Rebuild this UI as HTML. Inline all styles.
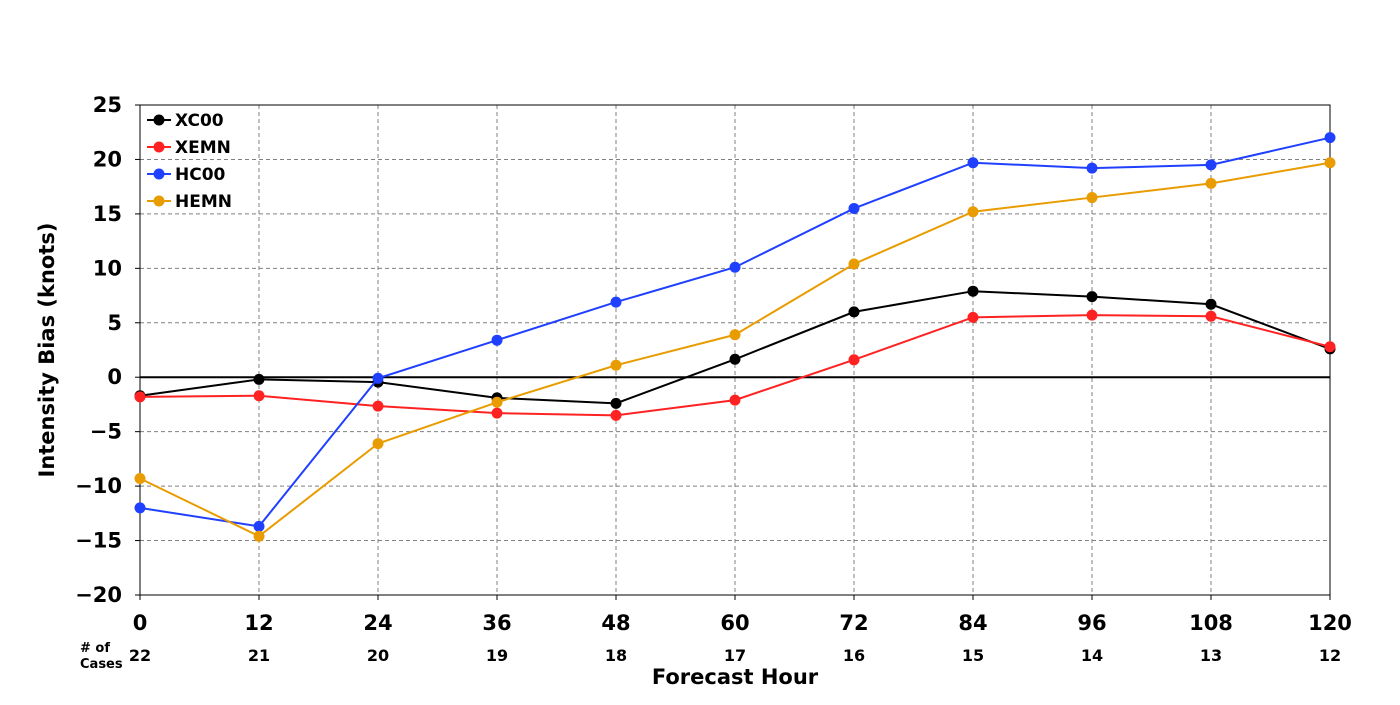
<!DOCTYPE html>
<html><head><meta charset="utf-8"><style>
body{margin:0;background:#fff;}
svg text{font-family:"DejaVu Sans","Liberation Sans",sans-serif;font-weight:bold;}
</style></head><body>
<svg id="chart" width="1400" height="700" xmlns="http://www.w3.org/2000/svg"></svg>
<script>
const hours=[0,12,24,36,48,60,72,84,96,108,120];
const cases=[22,21,20,19,18,17,16,15,14,13,12];
const yTicks=[25,20,15,10,5,0,-5,-10,-15,-20];
const seriesNames=["XC00","XEMN","HC00","HEMN"];
const seriesColors=["#000000","#ff2222","#2040ff","#e89c00"];
const xc00=[-1.7,-0.2,-0.45,-1.9,-2.4,1.65,6.0,7.9,7.4,6.7,2.6];
const xemn=[-1.8,-1.7,-2.65,-3.3,-3.5,-2.1,1.6,5.5,5.7,5.6,2.8];
const hc00=[-12.0,-13.7,-0.1,3.4,6.9,10.1,15.5,19.7,19.2,19.5,22.0];
const hemn=[-9.3,-14.6,-6.1,-2.3,1.1,3.9,10.4,15.2,16.5,17.8,19.7];
const seriesData=[xc00,xemn,hc00,hemn];
const NS="http://www.w3.org/2000/svg";
const svg=document.getElementById('chart');
const L=140,R=1330,T=105,B=595;
const xS=v=>L+(v-0)/(120-0)*(R-L);
const yS=v=>T+(25-v)/(45)*(B-T);
function mk(tag,attrs,parent){const e=document.createElementNS(NS,tag);for(const k in attrs)e.setAttribute(k,attrs[k]);(parent||svg).appendChild(e);return e;}
// grid
hours.forEach(h=>{const l=mk('line',{x1:xS(h),x2:xS(h),y1:T,y2:B,stroke:'#808080','stroke-dasharray':'4,3','stroke-width':1});
});
yTicks.forEach(v=>{const l=mk('line',{x1:L,x2:R,y1:yS(v),y2:yS(v),stroke:'#808080','stroke-dasharray':'4,3','stroke-width':1});
});
const z=mk('line',{x1:L,x2:R,y1:yS(0),y2:yS(0),stroke:'#000','stroke-width':2});

const fr=mk('rect',{x:L,y:T,width:R-L,height:B-T,fill:'none',stroke:'#000','stroke-width':1});

// ticks
yTicks.forEach(v=>{const t=mk('text',{x:L-18,y:yS(v)+7,'text-anchor':'end','font-size':21});t.textContent=String(v).replace('-','\u2212');

const tk=mk('line',{x1:L-5,x2:L,y1:yS(v),y2:yS(v),stroke:'#000'});});
hours.forEach((h,i)=>{const t=mk('text',{x:xS(h),y:630,'text-anchor':'middle','font-size':21});t.textContent=h;

const c=mk('text',{x:xS(h),y:661,'text-anchor':'middle','font-size':16});c.textContent=cases[i];

const tk=mk('line',{x1:xS(h),x2:xS(h),y1:B,y2:B+5,stroke:'#000'});});
const c1=mk('text',{x:80,y:652,'font-size':13});c1.textContent='# of';
const c2=mk('text',{x:80,y:668,'font-size':13});c2.textContent='Cases';
const xt=mk('text',{x:735,y:684,'text-anchor':'middle','font-size':21});xt.textContent='Forecast Hour';

const yt=mk('text',{x:54,y:350,'text-anchor':'middle','font-size':21,transform:'rotate(-90 54 350)'});yt.textContent='Intensity Bias (knots)';

// series
seriesData.forEach((d,s)=>{
 const p=mk('polyline',{points:d.map((v,i)=>xS(hours[i])+','+yS(v)).join(' '),fill:'none',stroke:seriesColors[s],'stroke-width':2});
 
 d.forEach((v,i)=>{const c=mk('circle',{cx:xS(hours[i]),cy:yS(v),r:5.5,fill:seriesColors[s]});
 });
});
// legend
seriesNames.forEach((n,s)=>{const y=120+s*27;
 const g=mk('g',{});
 mk('line',{x1:147,x2:171,y1:y,y2:y,stroke:seriesColors[s],'stroke-width':2},g);
 mk('circle',{cx:159,cy:y,r:5.5,fill:seriesColors[s]},g);
 const t=mk('text',{x:175,y:y+6,'font-size':17},g);t.textContent=n;});
</script>
</body></html>
